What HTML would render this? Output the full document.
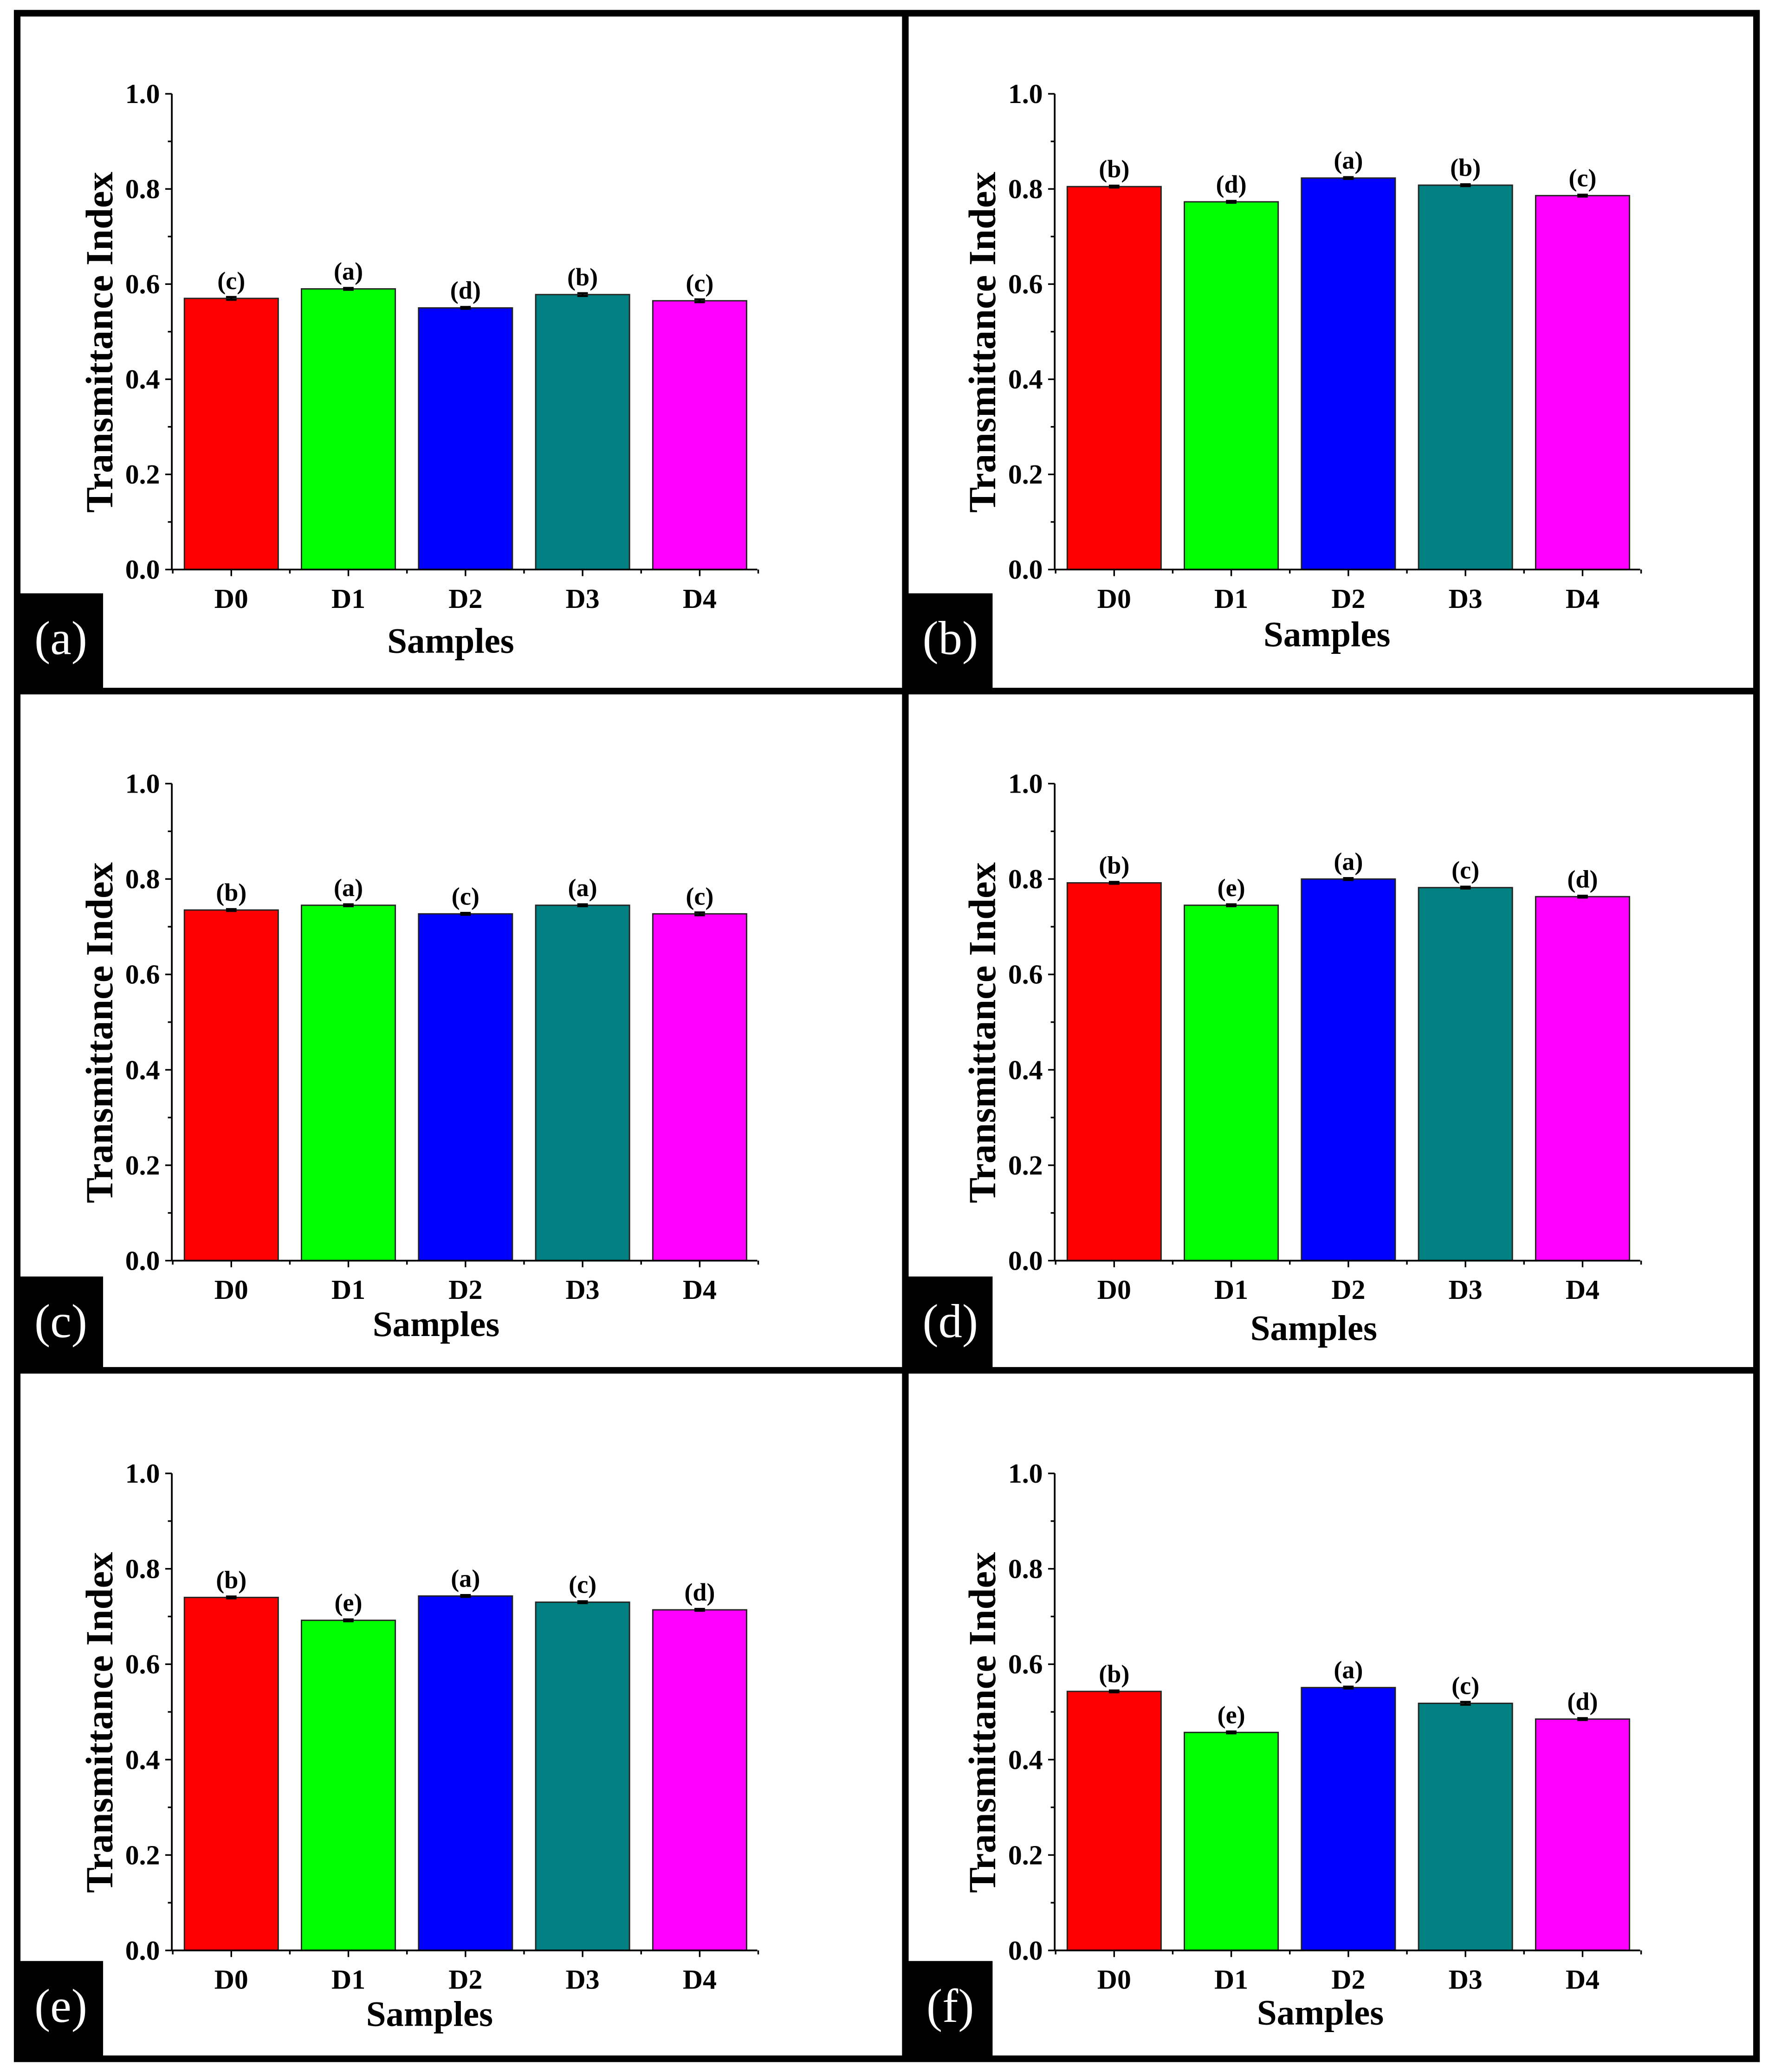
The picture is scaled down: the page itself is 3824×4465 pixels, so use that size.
<!DOCTYPE html>
<html><head><meta charset="utf-8"><style>
html,body{margin:0;padding:0;background:#fff}
svg{display:block}
text{font-family:"Liberation Serif",serif}
</style></head><body>
<svg id="fig" width="3824" height="4465" viewBox="0 0 1343 1568" preserveAspectRatio="none" xmlns="http://www.w3.org/2000/svg">
<rect x="0" y="0" width="1343" height="1568" fill="#fff"/>
<g id="frames">
<rect x="13" y="10" width="1316" height="1548" fill="none" stroke="#000" stroke-width="5"/>
<line x1="685" y1="10" x2="685" y2="1558" stroke="#000" stroke-width="5"/>
<line x1="13" y1="523" x2="1329" y2="523" stroke="#000" stroke-width="5"/>
<line x1="13" y1="1037" x2="1329" y2="1037" stroke="#000" stroke-width="5"/>
</g>
<g id="charts"></g>
</svg>
<script>
var categories = ["D0","D1","D2","D3","D4"];
var yTicks = ["0.0","0.2","0.4","0.6","0.8","1.0"];
var panelLabels = ["(a)","(b)","(c)","(d)","(e)","(f)"];
var valuesA = [0.570,0.590,0.550,0.578,0.565];
var valuesB = [0.805,0.773,0.823,0.808,0.786];
var valuesC = [0.735,0.745,0.727,0.745,0.727];
var valuesD = [0.792,0.745,0.800,0.782,0.763];
var valuesE = [0.740,0.692,0.743,0.730,0.714];
var valuesF = [0.543,0.457,0.551,0.518,0.485];
var lettersA = ["(c)","(a)","(d)","(b)","(c)"];
var lettersB = ["(b)","(d)","(a)","(b)","(c)"];
var lettersC = ["(b)","(a)","(c)","(a)","(c)"];
var lettersD = ["(b)","(e)","(a)","(c)","(d)"];
var lettersE = ["(b)","(e)","(a)","(c)","(d)"];
var lettersF = ["(b)","(e)","(a)","(c)","(d)"];
var errorsA = [0.003,0.002,0.002,0.003,0.003];
var errorsB = [0.002,0.002,0.002,0.002,0.002];
var errorsC = [0.002,0.002,0.002,0.002,0.003];
var errorsD = [0.002,0.002,0.002,0.002,0.002];
var errorsE = [0.002,0.002,0.002,0.002,0.002];
var errorsF = [0.002,0.002,0.002,0.003,0.002];
var colors = ["#ff0000","#00ff00","#0000ff","#008080","#ff00ff"];

var NS="http://www.w3.org/2000/svg";
var root=document.getElementById('charts');
function mk(tag,attrs,parent,txt){var e=document.createElementNS(NS,tag);for(var k in attrs)e.setAttribute(k,attrs[k]);if(txt!==undefined)e.textContent=txt;parent.appendChild(e);return e;}

var layouts=[
 {ax:130,top:71,bot:431,sx:341,sy:494,lx:14,ly:449,vals:valuesA,let:lettersA,err:errorsA},
 {ax:798,top:71,bot:431,sx:1004,sy:489,lx:687,ly:449,vals:valuesB,let:lettersB,err:errorsB},
 {ax:130,top:593,bot:954,sx:330,sy:1011,lx:14,ly:966,vals:valuesC,let:lettersC,err:errorsC},
 {ax:798,top:593,bot:954,sx:994,sy:1014,lx:687,ly:966,vals:valuesD,let:lettersD,err:errorsD},
 {ax:130,top:1115,bot:1476,sx:325,sy:1533,lx:14,ly:1484,vals:valuesE,let:lettersE,err:errorsE},
 {ax:798,top:1115,bot:1476,sx:999,sy:1532,lx:687,ly:1484,vals:valuesF,let:lettersF,err:errorsF}
];
var names=['a','b','c','d','e','f'];
layouts.forEach(function(L,pi){
  var g=mk('g',{},root);
  
  
  var pitch=88.6, bw=71, right=L.ax+443;
  function y(v){return L.bot-(L.bot-L.top)*v;}
  function xc(i){return L.ax+45+pitch*i;}
  L.vals.forEach(function(v,i){
    var r=mk('rect',{x:xc(i)-bw/2,y:y(v),width:bw,height:L.bot-y(v),fill:colors[i],stroke:'#222','stroke-width':1},g);
    
    
    var e=L.err[i];
    var eb=mk('path',{d:'M'+(xc(i)-4)+' '+y(v+e)+'H'+(xc(i)+4)+'M'+xc(i)+' '+y(v+e)+'V'+y(v-e)+'M'+(xc(i)-4)+' '+y(v-e)+'H'+(xc(i)+4),stroke:'#000','stroke-width':1.5,fill:'none'},g);
    
    
    var t=mk('text',{x:xc(i),y:y(v)-7,'font-size':19,'font-weight':'bold','text-anchor':'middle'},g,L.let[i]);
    
    
  });
  var ya=mk('line',{x1:L.ax,y1:L.top,x2:L.ax,y2:L.bot,stroke:'#000','stroke-width':1.3},g);
  
  
  var xa=mk('line',{x1:L.ax,y1:L.bot,x2:right,y2:L.bot,stroke:'#000','stroke-width':1.3},g);
  
  
  for(var k=0;k<=10;k++){
    var yy=y(k/10), len=(k%2==0)?5:3;
    mk('line',{x1:L.ax-len,y1:yy,x2:L.ax,y2:yy,stroke:'#000','stroke-width':1.2},g);
  }
  yTicks.forEach(function(s,k){
    var t=mk('text',{x:L.ax-9,y:y(k*0.2)+7,'font-size':21,'font-weight':'bold','text-anchor':'end'},g,s);
    
    
  });
  categories.forEach(function(c,i){
    mk('line',{x1:xc(i),y1:L.bot,x2:xc(i),y2:L.bot+5,stroke:'#000','stroke-width':1.2},g);
    mk('line',{x1:xc(i)+pitch/2,y1:L.bot,x2:xc(i)+pitch/2,y2:L.bot+3,stroke:'#000','stroke-width':1.2},g);
    var t=mk('text',{x:xc(i),y:L.bot+29,'font-size':21,'font-weight':'bold','text-anchor':'middle'},g,c);
    
    
  });
  mk('line',{x1:xc(0)-pitch/2,y1:L.bot,x2:xc(0)-pitch/2,y2:L.bot+3,stroke:'#000','stroke-width':1.2},g);
  var xt=mk('text',{x:L.sx,y:L.sy,'font-size':27,'font-weight':'bold','text-anchor':'middle'},g,'Samples');
  
  
  var cy=(L.top+L.bot)/2+8;
  var yt=mk('text',{x:0,y:0,'font-size':29,'font-weight':'bold','text-anchor':'middle',transform:'translate('+(L.ax-45)+','+cy+') rotate(-90)'},g,'Transmittance Index');
  
  
  var lb=mk('rect',{x:L.lx,y:L.ly,width:64,height:72,fill:'#000'},g);
  
  
  var lt=mk('text',{x:L.lx+32,y:L.ly+46,'font-size':36,fill:'#fff','text-anchor':'middle'},g,panelLabels[pi]);
  
  
});
</script>
</body></html>
